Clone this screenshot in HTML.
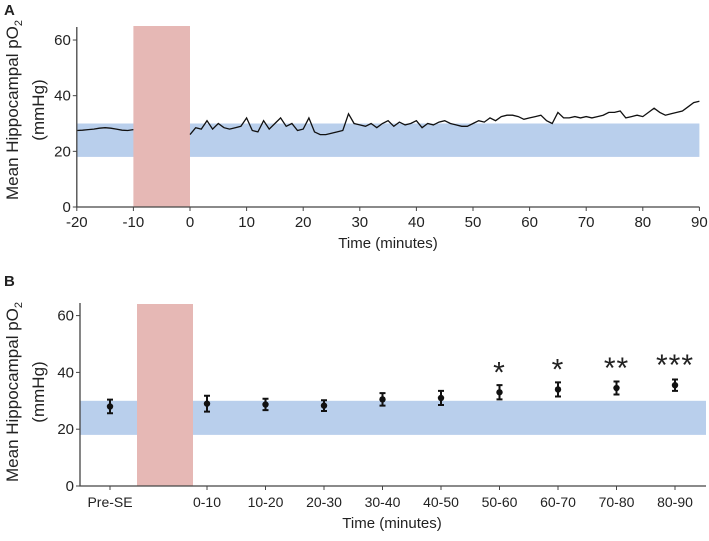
<!DOCTYPE html>
<html><head><meta charset="utf-8"><style>
body{margin:0;background:#fff}
text{font-family:"Liberation Sans",sans-serif;fill:#222}
</style></head><body>
<svg id="chart" width="709" height="536" viewBox="0 0 709 536" xmlns="http://www.w3.org/2000/svg"></svg>
<script>
const preVals = [27.5,27.6,27.8,28,28.3,28.5,28.3,28,27.6,27.5,27.8];
const postVals = [26,28.5,28,31,28,30,28.5,28,28.5,29,32,27.5,27,31,28,30,32,29,30,27.5,28,32,27,26,26,26.5,27,27.5,33.5,30,29.5,29,30,28.5,30,31,29,30.5,29.5,30,31,28.5,30,29.5,30.5,31,30,29.5,29,29,30,31,30.5,32,31,32.5,33,33,32.5,31.5,32,32.5,33,31,30,34,32,32,32.5,32,32.5,32,32.5,33,34,34,34.5,32,32.5,33,32.5,34,35.5,34,33,33.5,34,34.5,36,37.5,38];
const aXTicks = [-20,-10,0,10,20,30,40,50,60,70,80,90];
const yTicks = [0,20,40,60];
const bCats = ["Pre-SE","0-10","10-20","20-30","30-40","40-50","50-60","60-70","70-80","80-90"];
const bMeans = [28,29,28.7,28.3,30.5,31,33,34,34.5,35.5];
const bErr = [2.4,2.8,2,1.9,2.2,2.5,2.5,2.5,2.3,2];
const bStars = ["","","","","","","*","*","**","***"];
const bandLow = 18, bandHigh = 30;

const svg = document.getElementById('chart');
const NS = 'http://www.w3.org/2000/svg';
function mk(tag, attrs, parent){const e=document.createElementNS(NS,tag);for(const k in attrs)e.setAttribute(k,attrs[k]);(parent||svg).appendChild(e);return e;}

const ax = v => 190 + v*5.66;
const ay = v => 207 - v*2.783;
const by = v => 486 - v*2.84;
const bx = i => i===0 ? 110 : 207 + (i-1)*58.5;

// ---- Panel A ----
let g = mk('g',{});


let t = mk('text',{x:4,y:15,'font-size':15,'font-weight':'bold'},g); t.textContent='A';
 
let r = mk('rect',{x:ax(-20),y:ay(bandHigh),width:ax(90)-ax(-20),height:ay(bandLow)-ay(bandHigh),fill:'#b9cfec'},g);
 
r = mk('rect',{x:ax(-10),y:26,width:ax(0)-ax(-10),height:ay(0)-26,fill:'#e6b8b5'},g);
 
let d1 = preVals.map((v,i)=>(i?'L':'M')+ax(-20+i).toFixed(1)+','+ay(v).toFixed(1)).join('');
let p = mk('path',{d:d1,fill:'none',stroke:'#111','stroke-width':1.3},g);
 
let d2 = postVals.map((v,i)=>(i?'L':'M')+ax(i).toFixed(1)+','+ay(v).toFixed(1)).join('');
p = mk('path',{d:d2,fill:'none',stroke:'#111','stroke-width':1.3},g);
 
let l = mk('path',{d:`M${ax(-20)},27V${ay(0)}H${ax(90)}`,fill:'none',stroke:'#444','stroke-width':1.3},g);
 
aXTicks.forEach(v=>{mk('line',{x1:ax(v),x2:ax(v),y1:ay(0),y2:ay(0)+4,stroke:'#444'},g);
 const tt=mk('text',{x:ax(v),y:ay(0)+20,'font-size':15,'text-anchor':'middle'},g);tt.textContent=v;
  });
yTicks.forEach(v=>{mk('line',{x1:ax(-20)-4,x2:ax(-20),y1:ay(v),y2:ay(v),stroke:'#444'},g);
 const tt=mk('text',{x:ax(-20)-6,y:ay(v)+5,'font-size':15,'text-anchor':'end'},g);tt.textContent=v;
  });
t = mk('text',{x:388,y:248,'font-size':15,'text-anchor':'middle'},g); t.textContent='Time (minutes)';
 
function ytitle(cy,parent,name){
 const tt=mk('text',{transform:`translate(18,${cy}) rotate(-90)`,'font-size':17,'text-anchor':'middle'},parent);
 tt.innerHTML='Mean Hippocampal pO<tspan font-size="11" dy="4">2</tspan>';
  
 const t2=mk('text',{transform:`translate(44,${cy}) rotate(-90)`,'font-size':17,'text-anchor':'middle'},parent);
 t2.textContent='(mmHg)';
  
}
ytitle(110,g,'y-axis-title-a');

// ---- Panel B ----
g = mk('g',{});


t = mk('text',{x:4,y:286,'font-size':15,'font-weight':'bold'},g); t.textContent='B';
 
r = mk('rect',{x:80,y:by(bandHigh),width:626,height:by(bandLow)-by(bandHigh),fill:'#b9cfec'},g);
 
r = mk('rect',{x:137,y:304,width:56,height:by(0)-304,fill:'#e6b8b5'},g);
 
l = mk('path',{d:`M80,303V${by(0)}H706`,fill:'none',stroke:'#444','stroke-width':1.3},g);
 
yTicks.forEach(v=>{mk('line',{x1:76,x2:80,y1:by(v),y2:by(v),stroke:'#444'},g);
 const tt=mk('text',{x:74,y:by(v)+5,'font-size':15,'text-anchor':'end'},g);tt.textContent=v;
  });
bCats.forEach((c,i)=>{
 const x=bx(i);
 mk('line',{x1:x,x2:x,y1:by(0),y2:by(0)+4,stroke:'#444'},g);
 const tt=mk('text',{x:x,y:by(0)+21,'font-size':14,'text-anchor':'middle'},g);tt.textContent=c;
  
 const eb=mk('path',{d:`M${x},${by(bMeans[i]+bErr[i])}V${by(bMeans[i]-bErr[i])}M${x-3},${by(bMeans[i]+bErr[i])}H${x+3}M${x-3},${by(bMeans[i]-bErr[i])}H${x+3}`,stroke:'#111','stroke-width':2,fill:'none'},g);
  
 const pt=mk('circle',{cx:x,cy:by(bMeans[i]),r:3.2,fill:'#111'},g);
  
 if(bStars[i]){const st=mk('text',{x:x,y:by(bMeans[i])-10,'font-size':30,'text-anchor':'middle','letter-spacing':1},g);st.textContent=bStars[i];
   }
});
t = mk('text',{x:392,y:528,'font-size':15,'text-anchor':'middle'},g); t.textContent='Time (minutes)';
 
ytitle(392,g,'y-axis-title-b');
</script>
</body></html>
